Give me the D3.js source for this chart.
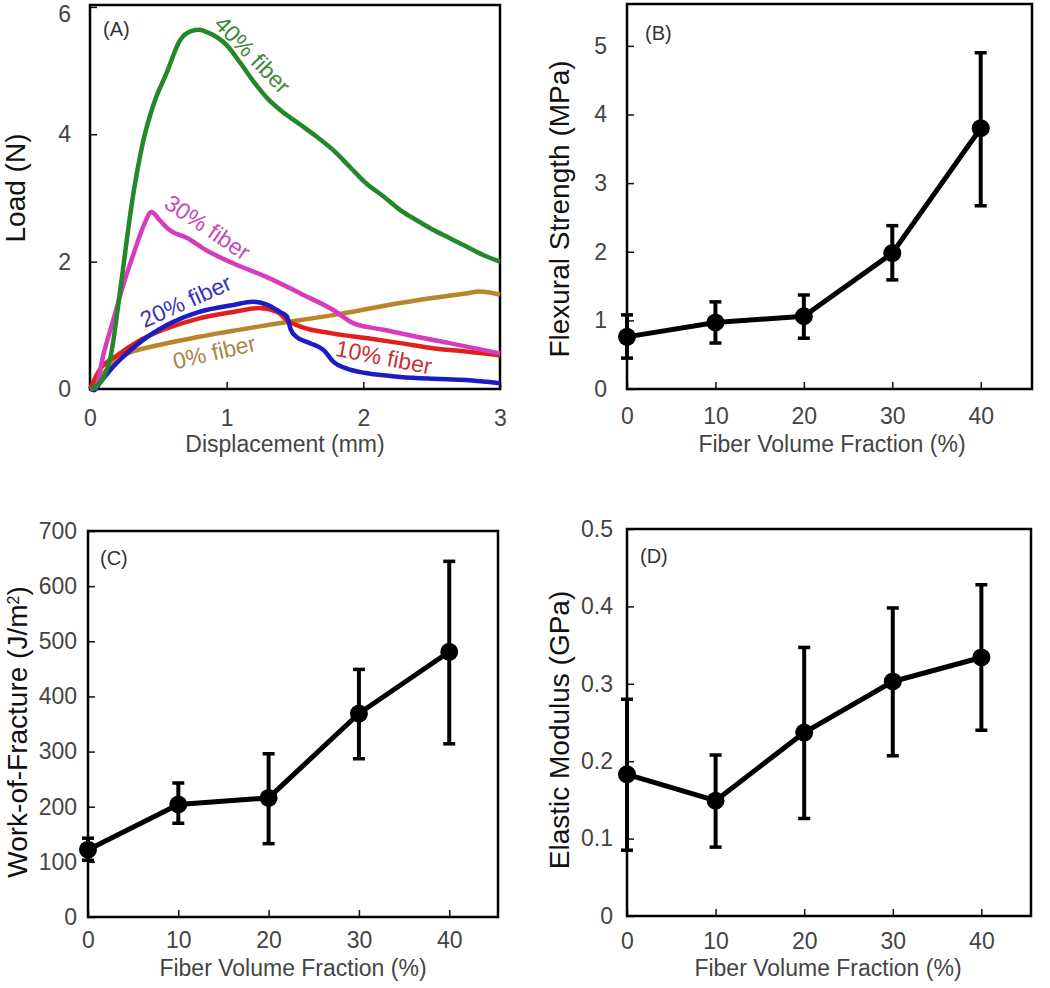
<!DOCTYPE html>
<html>
<head>
<meta charset="utf-8">
<script src="https://cdn.jsdelivr.net/npm/d3@7"></script>
<style>
  body { margin: 0; background: #fff; }
  svg { display: block; font-family: "Liberation Sans", Arial, sans-serif; }
</style>
</head>
<body>
<div id="chart"></div>
<script>
// ---- data ----
// panel A: load-displacement curves, [displacement mm, load N]
const curveNames = ['0% fiber', '10% fiber', '20% fiber', '30% fiber', '40% fiber']
const curve0 = [[0,0],[0.1,0.25],[0.2,0.47],[0.3,0.58],[0.44,0.66],[0.8,0.82],[1.29,1.0],[1.78,1.16],[2.27,1.35],[2.75,1.5],[2.85,1.53],[3.0,1.48]]
const curve10 = [[0,0],[0.07,0.3],[0.2,0.53],[0.37,0.77],[0.56,0.95],[0.8,1.11],[1.05,1.21],[1.24,1.27],[1.37,1.21],[1.44,1.08],[1.54,0.98],[1.78,0.87],[2.02,0.8],[2.27,0.72],[2.51,0.64],[2.75,0.59],[3.0,0.53]]
const curve20 = [[0,0],[0.03,-0.02],[0.07,0.09],[0.17,0.35],[0.27,0.56],[0.37,0.74],[0.56,1.0],[0.8,1.21],[1.05,1.32],[1.19,1.37],[1.29,1.33],[1.39,1.21],[1.44,1.14],[1.47,0.93],[1.51,0.82],[1.61,0.72],[1.71,0.61],[1.78,0.43],[1.88,0.32],[2.02,0.25],[2.27,0.19],[2.51,0.16],[2.75,0.14],[3.0,0.09]]
const curve30 = [[0,0],[0.04,0.02],[0.1,0.56],[0.17,1.08],[0.24,1.61],[0.32,2.13],[0.39,2.55],[0.45,2.78],[0.51,2.65],[0.58,2.5],[0.71,2.37],[0.85,2.18],[1.05,1.97],[1.29,1.76],[1.54,1.5],[1.78,1.24],[1.93,1.03],[2.15,0.93],[2.39,0.82],[2.63,0.72],[3.0,0.56]]
const curve40 = [[0,0],[0.08,0.12],[0.15,0.5],[0.23,1.7],[0.31,2.97],[0.39,3.9],[0.47,4.5],[0.56,4.96],[0.66,5.48],[0.74,5.62],[0.8,5.64],[0.86,5.6],[1.0,5.4],[1.1,5.12],[1.2,4.82],[1.3,4.56],[1.41,4.35],[1.54,4.15],[1.66,3.96],[1.78,3.75],[1.9,3.49],[2.02,3.23],[2.15,3.02],[2.27,2.81],[2.39,2.65],[2.51,2.5],[2.63,2.37],[2.75,2.24],[2.88,2.1],[3.0,2.0]]

// panels B-D: fiber volume fraction (%)
const fraction = [0, 10, 20, 30, 40]
const strength = [0.76, 0.97, 1.06, 1.98, 3.8]
const strengthHi = [1.08, 1.27, 1.37, 2.38, 4.9]
const strengthLo = [0.45, 0.67, 0.74, 1.59, 2.67]
const work = [122, 204, 216, 369, 481]
const workHi = [143, 243, 296, 449, 645]
const workLo = [103, 170, 133, 287, 314]
const modulus = [0.183, 0.149, 0.237, 0.303, 0.334]
const modulusHi = [0.28, 0.208, 0.347, 0.398, 0.428]
const modulusLo = [0.085, 0.089, 0.126, 0.207, 0.24]

const loadTicks = [0, 2, 4, 6]
const dispTicks = [0, 1, 2, 3]
const fracTicks = [0, 10, 20, 30, 40]
const strengthTicks = [0, 1, 2, 3, 4, 5]
const workTicks = [0, 100, 200, 300, 400, 500, 600, 700]
const modulusTicks = [0, 0.1, 0.2, 0.3, 0.4, 0.5]

const config = {
  colors: { '0% fiber': '#b8862a', '10% fiber': '#e0201c', '20% fiber': '#1c1cc4', '30% fiber': '#d63cbc', '40% fiber': '#22882a' },
  labelColors: { '0% fiber': '#a8864a', '10% fiber': '#c83236', '20% fiber': '#3434b8', '30% fiber': '#c44cb0', '40% fiber': '#3a8a3a' },
  tickColor: '#444',
  font: 23
}

const svg = d3.select('#chart').append('svg')
  .attr('width', 1050)
  .attr('height', 988)

// draws box, inward ticks and labels; returns the scales
const panel = ({xr, yr, xd, yd, xt, yt, yfmt, xpad, ypad, tag, tagPos, xTitle, xTitlePos, yTitle, yTitlePos}) => {
  const x = d3.scaleLinear().domain(xd).range(xr)
  const y = d3.scaleLinear().domain(yd).range(yr)
  const g = svg.append('g')

  const xa = g.append('g')
    .attr('transform', `translate(0,${yr[0]})`)
    .call(d3.axisBottom(x).tickValues(xt).tickSize(-7).tickPadding(xpad).tickFormat(d3.format('d')))
  const ya = g.append('g')
    .attr('transform', `translate(${xr[0]},0)`)
    .call(d3.axisLeft(y).tickValues(yt).tickSize(-7).tickPadding(ypad).tickFormat(yfmt))
  for (const a of [xa, ya]) {
    a.select('.domain').remove()
    a.selectAll('line').attr('stroke', '#111').attr('stroke-width', 1.5)
    a.selectAll('text').attr('fill', config.tickColor).style('font-size', config.font + 'px')
      .attr('font-family', null)
  }
  // keep the top label inside the page
  ya.selectAll('text').filter(d => y(d) < 12).attr('dy', '0.65em')

  g.append('rect')
    .attr('x', xr[0]).attr('y', yr[1])
    .attr('width', xr[1] - xr[0]).attr('height', yr[0] - yr[1])
    .attr('fill', 'none').attr('stroke', '#000').attr('stroke-width', 2.5)

  g.append('text')
    .attr('x', tagPos[0]).attr('y', tagPos[1])
    .attr('fill', '#333').style('font-size', '20px')
    .text(tag)

  g.append('text')
    .attr('x', xTitlePos[0]).attr('y', xTitlePos[1])
    .attr('text-anchor', 'middle')
    .attr('fill', '#444').style('font-size', config.font + 'px')
    .text(xTitle)

  const yt2 = g.append('text')
    .attr('transform', `translate(${yTitlePos[0]},${yTitlePos[1]}) rotate(-90)`)
    .attr('text-anchor', 'middle')
    .attr('fill', '#111').style('font-size', '28px')
  if (Array.isArray(yTitle)) {
    yt2.append('tspan').text(yTitle[0])
    yt2.append('tspan').attr('dy', -8).style('font-size', '16px').text(yTitle[1])
    yt2.append('tspan').attr('dy', 8).text(yTitle[2])
  } else {
    yt2.text(yTitle)
  }
  return {g, x, y}
}

// ---- panel A ----
const A = panel({
  xr: [90, 500], yr: [389, 5], xd: [0, 3], yd: [0, 6.03],
  xt: dispTicks, yt: loadTicks, yfmt: d3.format('d'), xpad: 21, ypad: 19,
  tag: '(A)', tagPos: [103, 36],
  xTitle: 'Displacement (mm)', xTitlePos: [285, 452],
  yTitle: 'Load (N)', yTitlePos: [25, 188]
})

const curves = [curve0, curve10, curve20, curve30, curve40]
const line = d3.line().x(d => A.x(d[0])).y(d => A.y(d[1])).curve(d3.curveMonotoneX)
curves.forEach((c, i) => {
  A.g.append('path')
    .datum(c)
    .attr('d', line)
    .attr('fill', 'none')
    .attr('stroke', config.colors[curveNames[i]])
    .attr('stroke-width', 4.5)
    .attr('stroke-linejoin', 'round')
})

// curve labels: [name, displacement, load, angle]
const curveLabels = [
  ['40% fiber', 1.19, 5.25, 46],
  ['30% fiber', 0.86, 2.54, 34],
  ['20% fiber', 0.70, 1.38, -24],
  ['0% fiber', 0.91, 0.58, -13],
  ['10% fiber', 2.15, 0.50, 11]
]
A.g.selectAll('.clabel')
  .data(curveLabels)
  .enter()
  .append('text')
  .attr('class', 'clabel')
  .attr('transform', d => `translate(${A.x(d[1])},${A.y(d[2])}) rotate(${d[3]})`)
  .attr('text-anchor', 'middle')
  .attr('dy', '0.35em')
  .attr('fill', d => config.labelColors[d[0]])
  .style('font-size', config.font + 'px')
  .text(d => d[0])

// ---- panels B, C, D ----
const points = (p, vals, hi, lo) => {
  const data = fraction.map((f, i) => ({f, v: vals[i], hi: hi[i], lo: lo[i]}))
  p.g.append('g')
    .selectAll('g')
    .data(data)
    .enter()
    .append('g')
    .each(function (d) {
      const e = d3.select(this)
      const cx = p.x(d.f)
      e.append('line').attr('x1', cx).attr('x2', cx).attr('y1', p.y(d.hi)).attr('y2', p.y(d.lo))
        .attr('stroke', '#000').attr('stroke-width', 4)
      for (const v of [d.hi, d.lo]) {
        e.append('line').attr('x1', cx - 6).attr('x2', cx + 6).attr('y1', p.y(v)).attr('y2', p.y(v))
          .attr('stroke', '#000').attr('stroke-width', 3.5)
      }
    })
  p.g.append('path')
    .datum(data)
    .attr('d', d3.line().x(d => p.x(d.f)).y(d => p.y(d.v)))
    .attr('fill', 'none').attr('stroke', '#000').attr('stroke-width', 5).attr('stroke-linejoin', 'round')
  p.g.append('g')
    .selectAll('circle')
    .data(data)
    .enter()
    .append('circle')
    .attr('cx', d => p.x(d.f))
    .attr('cy', d => p.y(d.v))
    .attr('r', 9)
    .attr('fill', '#000')
}

const B = panel({
  xr: [627, 1032], yr: [389, 4], xd: [0, 45.8], yd: [0, 5.61],
  xt: fracTicks, yt: strengthTicks, yfmt: d3.format('d'), xpad: 19, ypad: 20,
  tag: '(B)', tagPos: [645, 40],
  xTitle: 'Fiber Volume Fraction (%)', xTitlePos: [832, 452],
  yTitle: 'Flexural Strength (MPa)', yTitlePos: [569, 209]
})
points(B, strength, strengthHi, strengthLo)

const C = panel({
  xr: [88, 498], yr: [917, 531], xd: [0, 45.4], yd: [0, 700],
  xt: fracTicks, yt: workTicks, yfmt: d3.format('d'), xpad: 15, ypad: 11,
  tag: '(C)', tagPos: [100, 565],
  xTitle: 'Fiber Volume Fraction (%)', xTitlePos: [293, 976],
  yTitle: ['Work-of-Fracture (J/m', '2', ')'], yTitlePos: [27, 732]
})
points(C, work, workHi, workLo)

const D = panel({
  xr: [627, 1031], yr: [916, 529], xd: [0, 45.6], yd: [0, 0.5],
  xt: fracTicks, yt: modulusTicks, yfmt: d => d === 0 ? '0' : d3.format('.1f')(d), xpad: 17, ypad: 14,
  tag: '(D)', tagPos: [640, 563],
  xTitle: 'Fiber Volume Fraction (%)', xTitlePos: [828, 976],
  yTitle: 'Elastic Modulus (GPa)', yTitlePos: [569, 730]
})
points(D, modulus, modulusHi, modulusLo)
</script>
</body>
</html>
